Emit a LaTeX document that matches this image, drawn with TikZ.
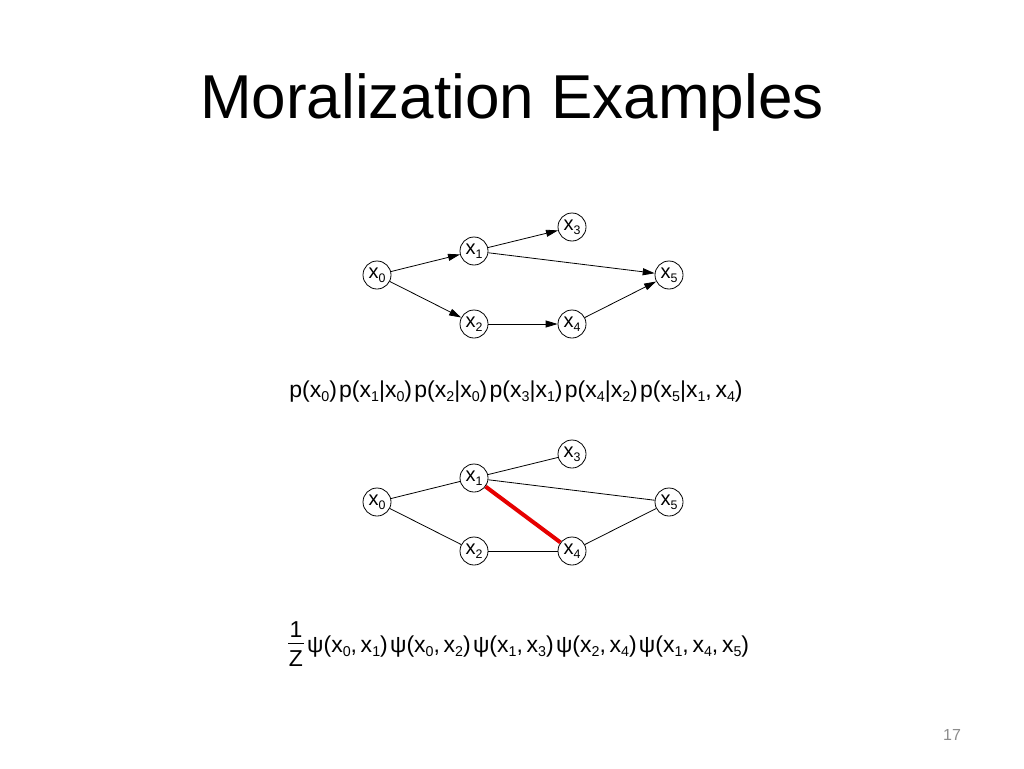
\documentclass[tikz,border=0pt]{standalone}
\usepackage{fontspec}
\setmainfont{Liberation Sans}
\usetikzlibrary{arrows.meta}
\newcommand{\xv}[1]{x\raisebox{-0.2em}{\scalebox{0.62}{#1}}}
\newcommand{\cs}{,\hspace{0.16em}}
\newcommand{\rp}{)\hspace{0.1em}}
\begin{document}
\begin{tikzpicture}[x=1pt,y=-1pt,
  vnode/.style={circle,draw,line width=0.8pt,minimum size=28pt,inner sep=0pt,font=\fontsize{20}{22}\selectfont},
  arr/.style={line width=0.8pt,-{Triangle[length=12pt,width=7pt]}},
  edge/.style={line width=0.8pt},
  moral/.style={line width=4pt,draw={rgb,255:red,230;green,0;blue,0}},
  formula/.style={font=\fontsize{23}{26}\selectfont,anchor=base,inner sep=0pt}]
\useasboundingbox (0,0) rectangle (1024,768);
\fill[white] (0,0) rectangle (1024,768);
% title
\node[anchor=base,inner sep=0pt,font=\fontsize{62}{70}\selectfont] (title) at (512,118) {Moralization Examples};
% top directed graph
\node[vnode] (a0) at (377,275) {\xv{0}};
\node[vnode] (a1) at (474,251) {\xv{1}};
\node[vnode] (a3) at (572,227) {\xv{3}};
\node[vnode] (a5) at (669,275) {\xv{5}};
\node[vnode] (a2) at (474,324) {\xv{2}};
\node[vnode] (a4) at (572,324) {\xv{4}};
\draw[arr] (a0) -- (a1);
\draw[arr] (a0) -- (a2);
\draw[arr] (a1) -- (a3);
\draw[arr] (a1) -- (a5);
\draw[arr] (a2) -- (a4);
\draw[arr] (a4) -- (a5);
% formula 1
\node[formula] (f1) at (516,397) {p(\xv{0}\rp p(\xv{1}|\xv{0}\rp p(\xv{2}|\xv{0}\rp p(\xv{3}|\xv{1}\rp p(\xv{4}|\xv{2}\rp p(\xv{5}|\xv{1}\cs\xv{4})};
% bottom moral graph
\node[vnode] (b0) at (377,502) {\xv{0}};
\node[vnode] (b1) at (474,478) {\xv{1}};
\node[vnode] (b3) at (572,454) {\xv{3}};
\node[vnode] (b5) at (669,502) {\xv{5}};
\node[vnode] (b2) at (474,551) {\xv{2}};
\node[vnode] (b4) at (572,551) {\xv{4}};
\draw[edge] (b0) -- (b1);
\draw[edge] (b0) -- (b2);
\draw[edge] (b1) -- (b3);
\draw[edge] (b1) -- (b5);
\draw[edge] (b2) -- (b4);
\draw[edge] (b4) -- (b5);
\draw[moral] (b1) -- (b4);
% formula 2
\node[font=\fontsize{23}{26}\selectfont,anchor=base,inner sep=0pt] (one) at (296,637) {1};
\draw[line width=0.8pt] (288,643) -- (304,643);
\node[font=\fontsize{23}{26}\selectfont,anchor=base,inner sep=0pt] (zz) at (296,666) {Z};
\node[formula,anchor=base west] (f2) at (307,652) {ψ(\xv{0}\cs\xv{1}\rp ψ(\xv{0}\cs\xv{2}\rp ψ(\xv{1}\cs\xv{3}\rp ψ(\xv{2}\cs\xv{4}\rp ψ(\xv{1}\cs\xv{4}\cs\xv{5})};
% page number
\node[anchor=base,inner sep=0pt,text={rgb,255:red,140;green,140;blue,140},font=\fontsize{16}{18}\selectfont] (pg) at (952,740) {17};
\end{tikzpicture}
\end{document}
